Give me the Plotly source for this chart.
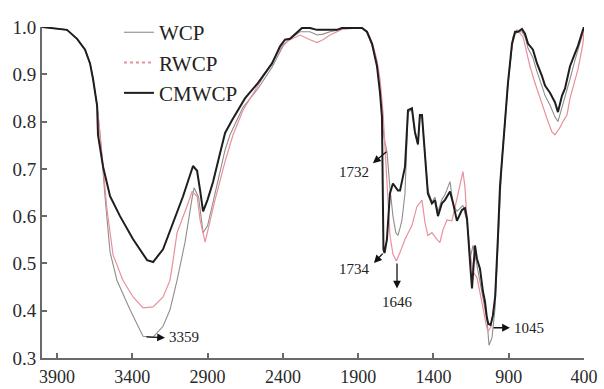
import plotly.graph_objects as go

# ---------------- data ----------------
wn_cmwcp = [4000, 3900, 3834, 3767, 3714, 3681, 3661, 3634, 3628, 3594, 3548, 3482, 3395, 3302, 3262,
            3196, 3130, 3063, 2997, 2970, 2950, 2930, 2900, 2864, 2820, 2784, 2738, 2652, 2565, 2472,
            2419, 2386, 2353, 2273, 2220, 2174, 2120, 2041, 2008, 1875, 1842, 1808, 1775, 1755, 1742,
            1738, 1735, 1732, 1725, 1709, 1689, 1669, 1636, 1622, 1589, 1569, 1543, 1523, 1503, 1490,
            1476, 1456, 1437, 1410, 1390, 1370, 1344, 1324, 1304, 1290, 1270, 1244, 1211, 1191, 1177,
            1165, 1157, 1144, 1135, 1124, 1111, 1091, 1071, 1058, 1045, 1035, 1020, 1005, 990, 978,
            971, 958, 945, 938, 905, 878, 858, 838, 812, 792, 772, 739, 712, 679, 659, 626, 593, 573,
            546, 526, 493, 460, 440, 407, 400]
t_cmwcp = [1.0, 0.996, 0.994, 0.975, 0.952, 0.923, 0.89, 0.834, 0.772, 0.704, 0.642, 0.60, 0.551, 0.507, 0.503,
           0.53, 0.586, 0.642, 0.706, 0.696, 0.655, 0.61, 0.635, 0.672, 0.73, 0.776, 0.803, 0.849, 0.882, 0.923,
           0.959, 0.973, 0.975, 0.998, 0.998, 0.994, 0.994, 0.994, 0.998, 0.998, 0.99, 0.965, 0.917, 0.861, 0.81,
           0.72, 0.62, 0.53, 0.522, 0.551, 0.648, 0.669, 0.654, 0.654, 0.704, 0.824, 0.828, 0.778, 0.752, 0.814,
           0.814, 0.731, 0.648, 0.627, 0.634, 0.60, 0.627, 0.634, 0.644, 0.652, 0.628, 0.59, 0.613, 0.617, 0.595,
           0.55, 0.503, 0.447, 0.49, 0.538, 0.51, 0.489, 0.44, 0.42, 0.385, 0.372, 0.37, 0.39, 0.43, 0.50,
           0.56, 0.663, 0.72, 0.745, 0.882, 0.965, 0.99, 0.99, 0.996, 0.986, 0.965, 0.952, 0.923, 0.896, 0.876,
           0.861, 0.841, 0.82, 0.855, 0.87, 0.917, 0.944, 0.96, 0.994, 1.0]

wn_rwcp = [4000, 3900, 3834, 3767, 3714, 3681, 3661, 3634, 3614, 3568, 3528, 3462, 3395, 3329, 3262,
           3196, 3150, 3130, 3103, 3037, 3003, 2970, 2950, 2917, 2851, 2784, 2731, 2665, 2565, 2485,
           2399, 2353, 2286, 2220, 2173, 2134, 2087, 2001, 1875, 1835, 1800, 1775, 1755, 1735, 1722,
           1709, 1689, 1669, 1646, 1620, 1589, 1543, 1510, 1476, 1456, 1437, 1410, 1377, 1357, 1337,
           1310, 1277, 1257, 1224, 1204, 1191, 1177, 1157, 1137, 1111, 1091, 1071, 1050, 1038, 1020,
           991, 978, 971, 958, 945, 938, 905, 872, 845, 805, 779, 759, 726, 692, 659, 639, 613, 593,
           580, 560, 540, 513, 493, 467, 440, 407, 400]
t_rwcp = [1.0, 0.996, 0.994, 0.975, 0.952, 0.923, 0.89, 0.834, 0.772, 0.613, 0.518, 0.464, 0.429, 0.406, 0.408,
          0.429, 0.464, 0.505, 0.565, 0.621, 0.652, 0.642, 0.592, 0.545, 0.634, 0.716, 0.772, 0.824, 0.876, 0.92,
          0.963, 0.973, 0.983, 0.973, 0.967, 0.973, 0.983, 0.996, 0.998, 0.988, 0.96, 0.93, 0.89, 0.82, 0.75,
          0.67, 0.56, 0.52, 0.505, 0.525, 0.551, 0.58, 0.62, 0.634, 0.586, 0.559, 0.565, 0.551, 0.544, 0.571,
          0.592, 0.59, 0.62, 0.67, 0.694, 0.663, 0.592, 0.524, 0.482, 0.47, 0.441, 0.406, 0.37, 0.356, 0.365,
          0.42, 0.50, 0.56, 0.66, 0.72, 0.745, 0.88, 0.979, 0.994, 0.979, 0.944, 0.917, 0.882, 0.849, 0.82,
          0.80, 0.778, 0.772, 0.778, 0.787, 0.80, 0.814, 0.849, 0.882, 0.911, 0.965, 0.99]

wn_wcp = [4000, 3900, 3834, 3767, 3714, 3681, 3661, 3634, 3614, 3581, 3548, 3502, 3415, 3329, 3262,
          3196, 3150, 3103, 3050, 3003, 2990, 2960, 2950, 2930, 2900, 2837, 2784, 2751, 2665, 2565,
          2472, 2399, 2353, 2286, 2220, 2173, 2134, 2087, 2001, 1875, 1842, 1808, 1775, 1755, 1740,
          1725, 1709, 1689, 1669, 1650, 1636, 1622, 1609, 1589, 1575, 1569, 1543, 1523, 1503, 1490,
          1476, 1456, 1437, 1410, 1390, 1370, 1344, 1324, 1304, 1290, 1270, 1244, 1204, 1177, 1157,
          1137, 1111, 1078, 1044, 1031, 1011, 991, 978, 971, 958, 945, 938, 905, 878, 858, 838, 812,
          792, 772, 739, 712, 679, 659, 626, 593, 573, 546, 526, 493, 460, 440, 407, 400]
t_wcp = [1.0, 0.996, 0.994, 0.975, 0.952, 0.923, 0.89, 0.834, 0.772, 0.64, 0.524, 0.464, 0.402, 0.346, 0.344,
         0.367, 0.402, 0.464, 0.545, 0.638, 0.66, 0.64, 0.617, 0.565, 0.58, 0.669, 0.74, 0.772, 0.83, 0.87,
         0.915, 0.96, 0.975, 0.99, 0.99, 0.983, 0.985, 0.99, 0.996, 0.998, 0.99, 0.96, 0.92, 0.87, 0.80,
         0.76, 0.737, 0.66, 0.60, 0.565, 0.559, 0.575, 0.592, 0.648, 0.76, 0.82, 0.825, 0.775, 0.75, 0.81,
         0.81, 0.735, 0.655, 0.63, 0.64, 0.61, 0.635, 0.645, 0.66, 0.673, 0.627, 0.61, 0.623, 0.588, 0.51,
         0.538, 0.496, 0.441, 0.38, 0.327, 0.343, 0.405, 0.50, 0.56, 0.66, 0.72, 0.745, 0.88, 0.96, 0.985,
         0.99, 0.99, 0.98, 0.955, 0.935, 0.905, 0.875, 0.855, 0.835, 0.81, 0.80, 0.83, 0.85, 0.89, 0.93,
         0.95, 0.985, 0.995]

series_names = ["WCP", "RWCP", "CMWCP"]
x_ticks = [3900, 3400, 2900, 2400, 1900, 1400, 900, 400]
y_ticks = [0.3, 0.4, 0.5, 0.6, 0.7, 0.8, 0.9, 1.0]

# peak annotations: (label, arrow tail wn, tail value, arrow head wn, head value, label wn, label value, anchors)
peaks = [
    ("3359", 3316, 0.345, 3183, 0.343, 3168, 0.345, "left", "middle"),
    ("1732", 1702, 0.739, 1802, 0.712, 1812, 0.694, "right", "middle"),
    ("1734", 1728, 0.524, 1795, 0.501, 1805, 0.489, "right", "middle"),
    ("1646", 1642, 0.503, 1642, 0.447, 1642, 0.440, "center", "top"),
    ("1045", 1011, 0.364, 892, 0.364, 878, 0.364, "left", "middle"),
]

C_WCP = "#8e8e8e"
C_RWCP = "#ea8f9c"
C_CM = "#1e1e1e"
SERIF = "Liberation Serif, Times New Roman, serif"

fig = go.Figure()
fig.add_trace(go.Scatter(x=wn_wcp, y=t_wcp, mode="lines", name=series_names[0],
                         line=dict(color=C_WCP, width=1.1), showlegend=True, cliponaxis=False))
fig.add_trace(go.Scatter(x=wn_rwcp, y=t_rwcp, mode="lines", name=series_names[1],
                         line=dict(color=C_RWCP, width=1.2), showlegend=False, cliponaxis=False))
fig.add_trace(go.Scatter(x=[None], y=[None], mode="lines", name=series_names[1],
                         line=dict(color=C_RWCP, width=2, dash="dot"), showlegend=True))
fig.add_trace(go.Scatter(x=wn_cmwcp, y=t_cmwcp, mode="lines", name=series_names[2],
                         line=dict(color=C_CM, width=2), showlegend=True, cliponaxis=False))

for lab, cx, cy, hx, hy, lx, ly, xa, ya in peaks:
    fig.add_annotation(x=hx, y=hy, ax=cx, ay=cy, axref="x", ayref="y", xref="x", yref="y",
                       text="", showarrow=True, arrowhead=2, arrowsize=1.2, arrowwidth=1.3,
                       arrowcolor="#111")
    fig.add_annotation(x=lx, y=ly, xref="x", yref="y", text=lab, showarrow=False,
                       xanchor=xa, yanchor=ya, font=dict(family=SERIF, size=15, color="#222"))

axis_common = dict(showgrid=False, zeroline=False, showline=True, linecolor="#6a6a6a", linewidth=2,
                   ticks="inside", ticklen=5, tickwidth=1.5, tickcolor="#6a6a6a", automargin=False)

fig.update_layout(
    width=604, height=389,
    margin=dict(l=42, r=20, t=20, b=31),
    paper_bgcolor="white", plot_bgcolor="white",
    xaxis=dict(range=[4000, 400], tickvals=x_ticks, ticktext=[str(v) for v in x_ticks],
               ticklabelstandoff=1,
               tickfont=dict(family=SERIF, size=18, color="#2a2a2a"), **axis_common),
    yaxis=dict(range=[0.3, 1.0], tickvals=y_ticks, ticktext=[f"{v:.1f}" for v in y_ticks],
               tickfont=dict(family=SERIF, size=19, color="#2a2a2a"), **axis_common),
    legend=dict(x=0.142, y=1.045, xanchor="left", yanchor="top", bgcolor="rgba(0,0,0,0)",
                font=dict(family=SERIF, size=21, color="#222"), tracegroupgap=0),
)

fig.write_html("out.html")
